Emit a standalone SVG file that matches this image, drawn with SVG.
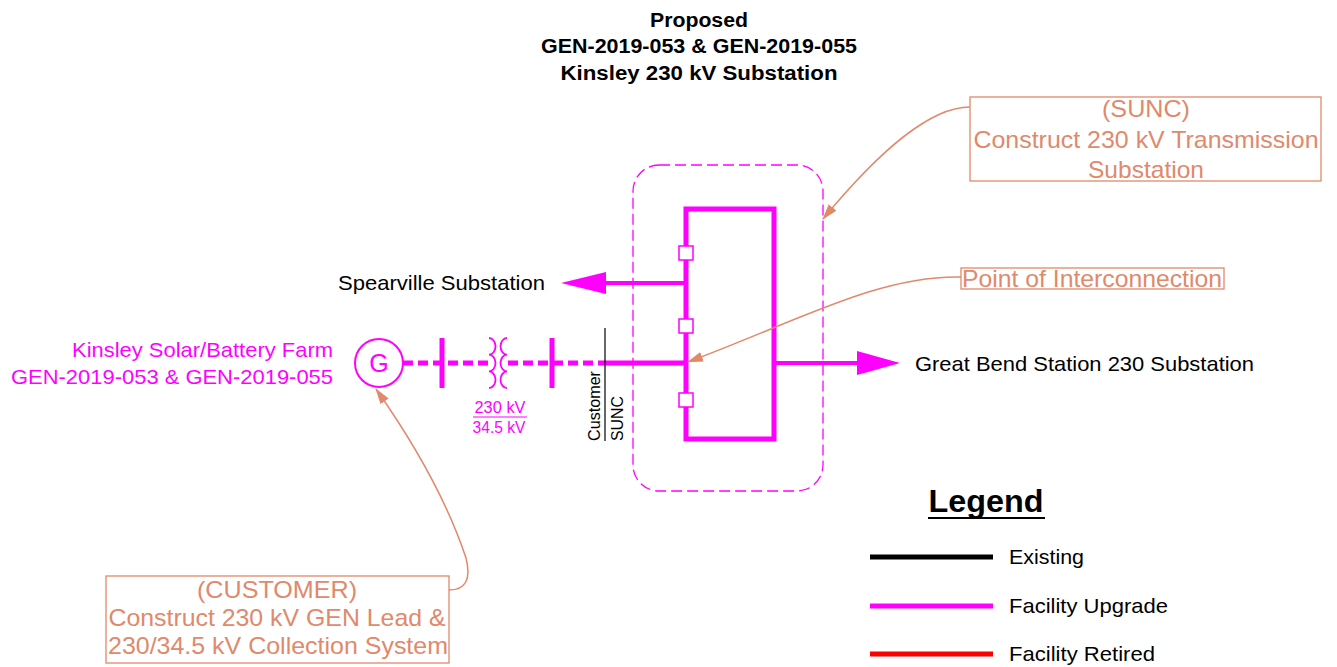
<svg xmlns="http://www.w3.org/2000/svg" width="1337" height="667" viewBox="0 0 1337 667">
<style>
text{font-family:"Liberation Sans",Arial,sans-serif}
.t{font-size:21px;fill:#000}
.m{fill:#ff00ff}
.s{fill:#e0896b;font-size:24px}
.bus{stroke:#ff00ff;fill:none}
.lead{stroke:#e0896b;fill:none;stroke-width:1.5}
.box{stroke:#e0896b;fill:none;stroke-width:1.3}
</style>
<defs>
<marker id="ah" markerWidth="16" markerHeight="10" refX="15" refY="5" orient="auto" markerUnits="userSpaceOnUse">
<path d="M0,0 L16,5 L0,10 Z" fill="#e0896b"/>
</marker>
</defs>
<rect width="1337" height="667" fill="#fff"/>

<g id="title" font-weight="bold" text-anchor="middle">
<text x="699" y="27" font-size="20" textLength="98" lengthAdjust="spacingAndGlyphs">Proposed</text>
<text x="699" y="53" font-size="20" textLength="316" lengthAdjust="spacingAndGlyphs">GEN-2019-053 &amp; GEN-2019-055</text>
<text x="699" y="80" font-size="20" textLength="277" lengthAdjust="spacingAndGlyphs">Kinsley 230 kV Substation</text>
</g>

<g id="substation-boundary">
<rect x="633" y="165" width="190" height="326" rx="26" ry="26" stroke="#ff00ff" stroke-width="1.3" fill="none" stroke-dasharray="11,5"/>
</g>

<g id="connectors">
<line x1="605" y1="283" x2="686" y2="283" class="bus" stroke-width="4"/>
<path d="M561,283 L606,272 L606,294 Z" fill="#ff00ff"/>
<line x1="598" y1="363" x2="686" y2="363" class="bus" stroke-width="5"/>
<line x1="774" y1="363" x2="858" y2="363" class="bus" stroke-width="4"/>
<path d="M900,363 L857,351 L857,375 Z" fill="#ff00ff"/>
<line x1="403" y1="363" x2="598" y2="363" class="bus" stroke-width="5" stroke-dasharray="10,5"/>
</g>

<g id="kinsley-substation">
<rect x="686" y="209" width="88" height="230" class="bus" stroke-width="5"/>
<rect x="679" y="246" width="14" height="14" fill="#fff" stroke="#ff00ff" stroke-width="1.5"/>
<rect x="679" y="319" width="14" height="14" fill="#fff" stroke="#ff00ff" stroke-width="1.5"/>
<rect x="679" y="393" width="14" height="14" fill="#fff" stroke="#ff00ff" stroke-width="1.5"/>
</g>

<g id="generator">
<circle cx="379" cy="363" r="24" fill="#fff" stroke="#ff00ff" stroke-width="2"/>
<text x="379" y="372" text-anchor="middle" font-size="25" class="m">G</text>
<text x="333" y="357" text-anchor="end" font-size="21" class="m" textLength="261" lengthAdjust="spacingAndGlyphs">Kinsley Solar/Battery Farm</text>
<text x="333" y="384" text-anchor="end" font-size="21" class="m" textLength="322" lengthAdjust="spacingAndGlyphs">GEN-2019-053 &amp; GEN-2019-055</text>
</g>

<g id="bus-bars">
<line x1="442" y1="338" x2="442" y2="388" class="bus" stroke-width="5"/>
<line x1="552" y1="338" x2="552" y2="388" class="bus" stroke-width="5"/>
</g>

<g id="transformer">
<rect x="488" y="358" width="20" height="10" fill="#fff"/>
<path d="M489,338 a6.5,8.35 0 0 1 0,16.7 a6.5,8.35 0 0 1 0,16.7 a6.5,8.35 0 0 1 0,16.7" class="bus" stroke-width="1.8"/>
<path d="M507,338 a6.5,8.35 0 0 0 0,16.7 a6.5,8.35 0 0 0 0,16.7 a6.5,8.35 0 0 0 0,16.7" class="bus" stroke-width="1.8"/>
<text x="500" y="413" text-anchor="middle" font-size="16.5" class="m" textLength="51" lengthAdjust="spacingAndGlyphs">230 kV</text>
<line x1="473" y1="417" x2="527" y2="417" stroke="#ff00ff" stroke-width="1.2"/>
<text x="499" y="433" text-anchor="middle" font-size="16.5" class="m" textLength="53" lengthAdjust="spacingAndGlyphs">34.5 kV</text>
</g>

<g id="ownership-split">
<line x1="605" y1="328" x2="605" y2="441" stroke="#000" stroke-width="1.2"/>
<text transform="translate(600,441) rotate(-90)" font-size="16" textLength="70" lengthAdjust="spacingAndGlyphs">Customer</text>
<text transform="translate(623,441) rotate(-90)" font-size="16" textLength="45" lengthAdjust="spacingAndGlyphs">SUNC</text>
</g>

<g id="labels">
<text x="545" y="290" text-anchor="end" class="t" textLength="207" lengthAdjust="spacingAndGlyphs">Spearville Substation</text>
<text x="915" y="371" class="t" textLength="339" lengthAdjust="spacingAndGlyphs">Great Bend Station 230 Substation</text>
</g>

<g id="note-sunc">
<rect x="970" y="97" width="351" height="84" class="box"/>
<text x="1146" y="117" text-anchor="middle" class="s" textLength="88" lengthAdjust="spacingAndGlyphs">(SUNC)</text>
<text x="1146" y="148" text-anchor="middle" class="s" textLength="345" lengthAdjust="spacingAndGlyphs">Construct 230 kV Transmission</text>
<text x="1146" y="178" text-anchor="middle" class="s" textLength="116" lengthAdjust="spacingAndGlyphs">Substation</text>
</g>

<g id="note-poi">
<rect x="961" y="268" width="263" height="21" class="box"/>
<text x="1092" y="287" text-anchor="middle" class="s" textLength="260" lengthAdjust="spacingAndGlyphs">Point of Interconnection</text>
</g>

<g id="note-customer">
<rect x="106" y="576" width="343" height="87" class="box"/>
<text x="277" y="598" text-anchor="middle" class="s" textLength="160" lengthAdjust="spacingAndGlyphs">(CUSTOMER)</text>
<text x="277" y="626" text-anchor="middle" class="s" textLength="337" lengthAdjust="spacingAndGlyphs">Construct 230 kV GEN Lead &amp;</text>
<text x="278" y="654" text-anchor="middle" class="s" textLength="340" lengthAdjust="spacingAndGlyphs">230/34.5 kV Collection System</text>
</g>

<g id="leaders">
<path d="M970,107 C930,107 880,150 823,219" class="lead" marker-end="url(#ah)"/>
<path d="M961,277 C880,275 800,320 688,362" class="lead" marker-end="url(#ah)"/>
<path d="M449,590 Q474,590 466,558 Q440,480 376,389" class="lead" marker-end="url(#ah)"/>
</g>

<g id="legend">
<text x="986" y="512" text-anchor="middle" font-size="31" font-weight="bold" textLength="115" lengthAdjust="spacingAndGlyphs">Legend</text>
<line x1="928" y1="518" x2="1045" y2="518" stroke="#000" stroke-width="1.8"/>
<line x1="870" y1="557" x2="993" y2="557" stroke="#000" stroke-width="5"/>
<text x="1009" y="564" class="t" textLength="75" lengthAdjust="spacingAndGlyphs">Existing</text>
<line x1="870" y1="606" x2="993" y2="606" stroke="#ff00ff" stroke-width="5"/>
<text x="1009" y="613" class="t" textLength="159" lengthAdjust="spacingAndGlyphs">Facility Upgrade</text>
<line x1="870" y1="654" x2="993" y2="654" stroke="#ff0000" stroke-width="5"/>
<text x="1009" y="661" class="t" textLength="146" lengthAdjust="spacingAndGlyphs">Facility Retired</text>
</g>
</svg>
